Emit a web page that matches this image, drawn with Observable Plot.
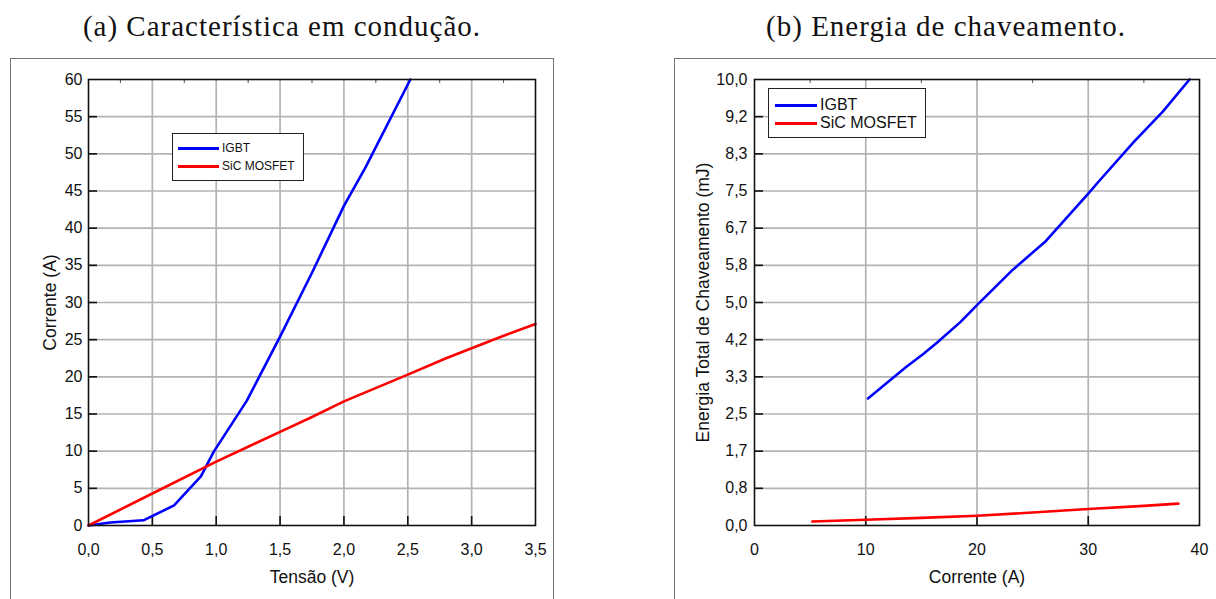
<!DOCTYPE html>
<html>
<head>
<meta charset="utf-8">
<script src="https://cdn.jsdelivr.net/npm/d3@7"></script>
<script src="https://cdn.jsdelivr.net/npm/@observablehq/plot@0.6"></script>
<style>
  html, body { margin: 0; padding: 0; background: #fff; }
  #page { position: relative; width: 1216px; height: 599px; overflow: hidden; background: #fff; }
  .title { position: absolute; top: 10px; font-family: "Liberation Serif", "DejaVu Serif", serif; font-size: 29px; letter-spacing: 1px; color: #111; white-space: nowrap; transform: translateX(-50%); }
  .frame { position: absolute; border: 1.5px solid #777; box-sizing: border-box; }
  .plot { position: absolute; }
  .legend { position: absolute; background: #fff; border: 1.5px solid #222; box-sizing: border-box; font-family: "Liberation Sans", Arial, sans-serif; color: #111; }
  .legend .row { position: absolute; white-space: nowrap; }
  .legend .sw { position: absolute; height: 3px; }
</style>
</head>
<body>
<div id="page">
  <div class="title" id="titleA" style="left:282px"></div>
  <div class="title" id="titleB" style="left:946px"></div>
  <div class="frame" style="left:10px; top:58px; width:544px; height:600px"></div>
  <div class="frame" style="left:674px; top:58px; width:600px; height:600px"></div>
  <div class="plot" id="plotA" style="left:11px; top:59px"></div>
  <div class="plot" id="plotB" style="left:675px; top:59px"></div>
  <div class="legend" id="legA" style="left:172px; top:133px; width:132px; height:48px; font-size:12px"></div>
  <div class="legend" id="legB" style="left:768px; top:88px; width:158px; height:50px; font-size:16px"></div>
</div>
<script>
// ---------- texts ----------
const titleA = "(a) Característica em condução.";
const titleB = "(b) Energia de chaveamento.";
const seriesNames = ["IGBT", "SiC MOSFET"];
const seriesColors = ["#0000ff", "#ff0000"];

// ---------- chart (a): conduction characteristic ----------
const igbtV = [0, 0.17, 0.43, 0.67, 0.88, 0.98, 1.24, 1.50, 1.75, 2.00, 2.17, 2.52];
const igbtA = [0, 0.4, 0.7, 2.7, 6.6, 9.9, 16.8, 25.4, 34.0, 43.0, 48.2, 60];
const sicV  = [0, 0.5, 1.0, 1.25, 1.5, 1.75, 2.0, 2.5, 2.8, 3.2, 3.5];
const sicA  = [0, 4.3, 8.6, 10.6, 12.6, 14.6, 16.7, 20.3, 22.5, 25.2, 27.1];
const aXTicks = [0, 0.5, 1.0, 1.5, 2.0, 2.5, 3.0, 3.5];
const aXMinor = [0.25, 0.75, 1.25, 1.75, 2.25, 2.75, 3.25];
const aYTicks = [0, 5, 10, 15, 20, 25, 30, 35, 40, 45, 50, 55, 60];
const aXLabel = "Tensão (V)";
const aYLabel = "Corrente (A)";

// ---------- chart (b): switching energy ----------
const igbtI = [10.2, 13.6, 15.2, 16.5, 18.5, 20.0, 23.2, 26.2, 30.0, 31.0, 34.1, 36.7, 39.1];
const igbtE = [2.85, 3.55, 3.85, 4.12, 4.56, 4.94, 5.73, 6.38, 7.44, 7.73, 8.60, 9.28, 10.0];
const sicI  = [5.2, 10, 15, 20, 25, 30, 35, 38.1];
const sicE  = [0.09, 0.13, 0.17, 0.22, 0.29, 0.37, 0.44, 0.49];
const bXTicks = [0, 10, 20, 30, 40];
const bXMinor = [5, 15, 25, 35];
const bYTickLabels = ["0,0","0,8","1,7","2,5","3,3","4,2","5,0","5,8","6,7","7,5","8,3","9,2","10,0"];
const bYTicks = bYTickLabels.map((_, i) => i * 10 / 12);
const bXLabel = "Corrente (A)";
const bYLabel = "Energia Total de Chaveamento (mJ)";

const comma = d => d3.format(".1f")(d).replace(".", ",");
const FONT = "Liberation Sans, Arial, sans-serif";

function makeChart(o) {
  const W = o.width, H = 540;
  const m = {top: 20, bottom: 74, left: o.ml, right: o.mr};
  const innerH = H - m.top - m.bottom, innerW = W - m.left - m.right;
  const yPerPx = (o.yd[1] - o.yd[0]) / innerH;
  const xPerPx = (o.xd[1] - o.xd[0]) / innerW;
  const rows = [];
  o.series.forEach((s, k) => s.x.forEach((x, i) => rows.push({x, y: s.y[i], name: seriesNames[k]})));
  return Plot.plot({
    width: W, height: H,
    marginTop: m.top, marginBottom: m.bottom, marginLeft: m.left, marginRight: m.right,
    style: {fontFamily: FONT, fontSize: "16px", color: "#111", background: "transparent", overflow: "visible"},
    x: {domain: o.xd, label: null},
    y: {domain: o.yd, label: null},
    color: {domain: seriesNames, range: seriesColors},
    marks: [
      Plot.gridX(o.xTicks.slice(1, -1), {stroke: "#b3b3b3", strokeOpacity: 1, strokeWidth: 1.7}),
      Plot.gridY(o.yTicks.slice(1, -1), {stroke: "#b3b3b3", strokeOpacity: 1, strokeWidth: 1.7}),
      // inward major ticks
      Plot.ruleX(o.xTicks.slice(1, -1), {y1: o.yd[0], y2: o.yd[0] + 9 * yPerPx, stroke: "#111", strokeWidth: 1.6}),
      Plot.ruleY(o.yTicks.slice(1, -1), {x1: o.xd[0], x2: o.xd[0] + 9 * xPerPx, stroke: "#111", strokeWidth: 1.6}),
      // minor ticks on top
      Plot.ruleX(o.xMinor, {y1: o.yd[1], y2: o.yd[1] - 4 * yPerPx, stroke: "#555", strokeWidth: 1}),
      Plot.axisX(o.xTicks, {tickSize: 0, tickPadding: 18, tickFormat: o.xFmt, fontSize: 16, fill: "#111", label: null}),
      Plot.axisY(o.yTicks, {tickSize: 0, tickPadding: o.yPad, tickFormat: o.yFmt, fontSize: 16, fill: "#111", label: null}),
      Plot.line(rows, {x: "x", y: "y", z: "name", stroke: "name", strokeWidth: 2.6}),
      Plot.frame({stroke: "#111", strokeWidth: 1.6}),
      Plot.text([o.xLabel], {frameAnchor: "bottom", dy: 52, lineAnchor: "middle", fontSize: 17.5, fill: "#111"}),
      Plot.text([o.yLabel], {frameAnchor: "left", dx: o.yLabelDx, rotate: -90, lineAnchor: "middle", textAnchor: "middle", fontSize: 17.5, fill: "#111"})
    ]
  });
}

const chartA = makeChart({
  width: 542, ml: 77, mr: 18, xd: [0, 3.5], yd: [0, 60],
  xTicks: aXTicks, yTicks: aYTicks, xMinor: aXMinor,
  xFmt: comma, yFmt: d => String(d), yPad: 6,
  series: [{x: igbtV, y: igbtA}, {x: sicV, y: sicA}],
  xLabel: aXLabel, yLabel: aYLabel, yLabelDx: -38
});
document.getElementById("plotA").appendChild(chartA);

const bFmt = d => bYTickLabels[bYTicks.findIndex(t => Math.abs(t - d) < 1e-9)];
const chartB = makeChart({
  width: 541, ml: 79, mr: 17, xd: [0, 40], yd: [0, 10],
  xTicks: bXTicks, yTicks: bYTicks, xMinor: bXMinor,
  xFmt: d => String(d), yFmt: bFmt, yPad: 7,
  series: [{x: igbtI, y: igbtE}, {x: sicI, y: sicE}],
  xLabel: bXLabel, yLabel: bYLabel, yLabelDx: -51
});
document.getElementById("plotB").appendChild(chartB);

document.getElementById("titleA").textContent = titleA;
document.getElementById("titleB").textContent = titleB;

function legend(id, cfg) {
  const el = document.getElementById(id);
  seriesNames.forEach((n, i) => {
    const sw = document.createElement("div");
    sw.className = "sw";
    sw.style.left = cfg.swX + "px";
    sw.style.width = cfg.swW + "px";
    sw.style.top = (cfg.y0 + i * cfg.dy - 1.5) + "px";
    sw.style.background = seriesColors[i];
    el.appendChild(sw);
    const t = document.createElement("div");
    t.className = "row";
    t.textContent = n;
    t.style.left = cfg.tx + "px";
    t.style.top = (cfg.y0 + i * cfg.dy) + "px";
    t.style.transform = "translateY(-50%)";
    el.appendChild(t);
  });
}
legend("legA", {swX: 5, swW: 41, tx: 49, y0: 14, dy: 18});
legend("legB", {swX: 6, swW: 42, tx: 51, y0: 16, dy: 18});
</script>
</body>
</html>
